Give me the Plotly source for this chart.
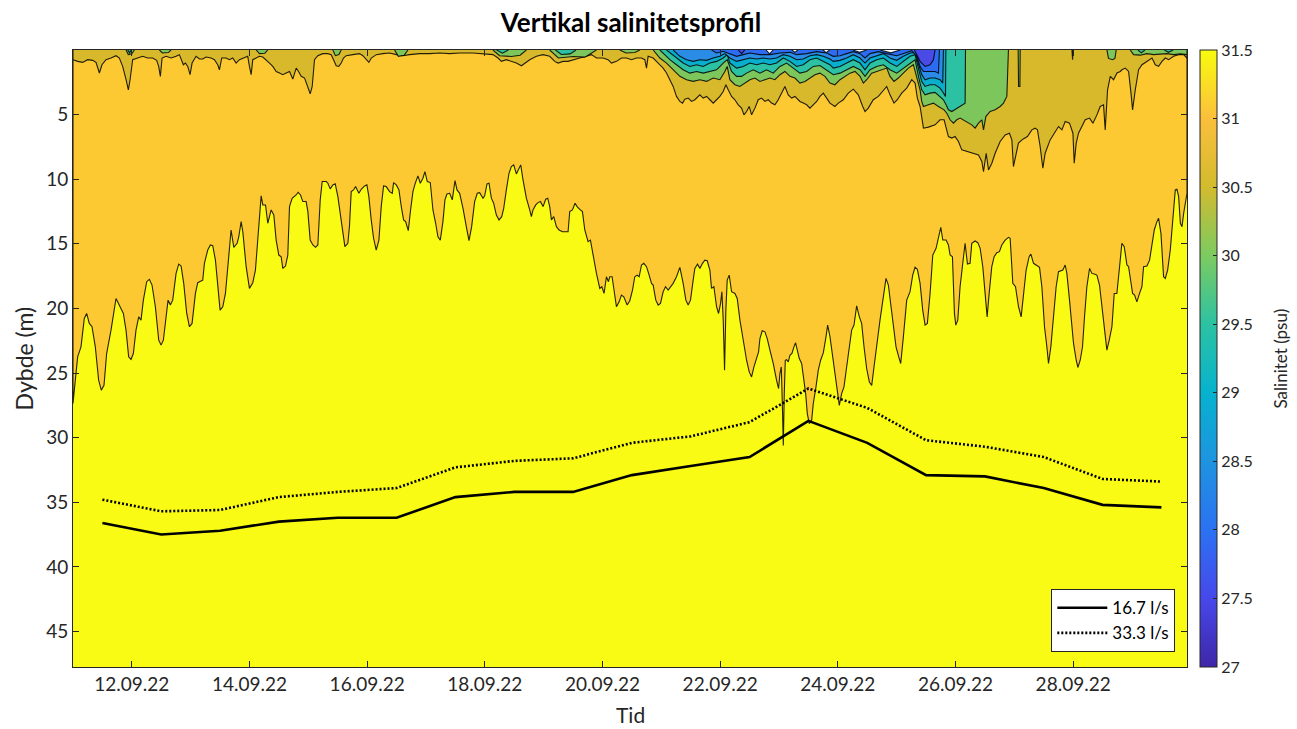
import pandas as pd
import plotly.graph_objects as go

START = pd.Timestamp("2022-09-11 00:00")
T_END = 18.935  # days after START at the right edge of the record

# ---- isolines: time in days after START, depth in m ----
# 31.5 psu (yellow below, orange above)
iso315_t = [0.0, 0.079, 0.136, 0.192, 0.232, 0.277, 0.323, 0.379, 0.436, 0.481, 0.527, 0.572, 0.646, 0.731,
            0.788, 0.856, 0.901, 0.946, 0.986, 1.026, 1.071, 1.117, 1.156, 1.196, 1.253, 1.298, 1.343, 1.400,
            1.457, 1.497, 1.536, 1.582, 1.616, 1.655, 1.695, 1.752, 1.797, 1.837, 1.882, 1.933, 1.979, 2.024,
            2.081, 2.120, 2.166, 2.205, 2.234, 2.290, 2.336, 2.375, 2.421, 2.472, 2.500, 2.546, 2.591, 2.642,
            2.687, 2.733, 2.790, 2.818, 2.858, 2.886, 2.943, 2.999, 3.056, 3.101, 3.141, 3.198, 3.226, 3.272,
            3.311, 3.368, 3.413, 3.453, 3.498, 3.538, 3.566, 3.612, 3.651, 3.680, 3.725, 3.793, 3.827, 3.867,
            3.907, 3.963, 3.992, 4.031, 4.077, 4.122, 4.162, 4.202, 4.236, 4.304, 4.332, 4.372, 4.417, 4.457,
            4.502, 4.531, 4.576, 4.621, 4.672, 4.700, 4.729, 4.769, 4.803, 4.825, 4.859, 4.899, 4.956, 4.995,
            5.029, 5.069, 5.109, 5.154, 5.200, 5.239, 5.279, 5.324, 5.381, 5.427, 5.449, 5.495, 5.540, 5.580,
            5.619, 5.653, 5.699, 5.738, 5.778, 5.818, 5.863, 5.903, 5.948, 5.982, 6.022, 6.073, 6.118, 6.164,
            6.203, 6.243, 6.288, 6.322, 6.356, 6.402, 6.447, 6.493, 6.527, 6.572, 6.629, 6.685, 6.731, 6.776,
            6.827, 6.872, 6.912, 6.969, 6.997, 7.037, 7.071, 7.111, 7.150, 7.196, 7.241, 7.287, 7.321, 7.366,
            7.411, 7.451, 7.491, 7.536, 7.582, 7.610, 7.649, 7.706, 7.763, 7.791, 7.819, 7.865, 7.905, 7.944,
            7.990, 8.035, 8.069, 8.103, 8.132, 8.171, 8.217, 8.262, 8.319, 8.375, 8.415, 8.443, 8.489, 8.534,
            8.568, 8.613, 8.659, 8.699, 8.755, 8.795, 8.840, 8.897, 8.954, 8.988, 9.027, 9.067, 9.101, 9.124,
            9.163, 9.192, 9.237, 9.283, 9.322, 9.362, 9.419, 9.464, 9.510, 9.549, 9.589, 9.623, 9.663, 9.702,
            9.748, 9.793, 9.833, 9.861, 9.906, 9.946, 9.986, 10.031, 10.071, 10.116, 10.156, 10.201, 10.258,
            10.315, 10.371, 10.417, 10.456, 10.496, 10.541, 10.570, 10.615, 10.655, 10.700, 10.740, 10.780,
            10.825, 10.853, 10.893, 10.939, 10.973, 11.007, 11.029, 11.052, 11.075, 11.097, 11.120, 11.154,
            11.194, 11.251, 11.290, 11.336, 11.392, 11.449, 11.494, 11.534, 11.574, 11.619, 11.653, 11.676,
            11.715, 11.761, 11.800, 11.846, 11.902, 11.959, 11.993, 12.016, 12.039, 12.061, 12.073, 12.090,
            12.107, 12.130, 12.158, 12.186, 12.220, 12.254, 12.282, 12.311, 12.345, 12.385, 12.413, 12.453,
            12.481, 12.515, 12.555, 12.583, 12.629, 12.668, 12.708, 12.753, 12.799, 12.827, 12.867, 12.906,
            12.952, 12.991, 13.025, 13.065, 13.105, 13.150, 13.196, 13.235, 13.275, 13.320, 13.366, 13.405,
            13.445, 13.490, 13.536, 13.576, 13.615, 13.661, 13.717, 13.774, 13.819, 13.859, 13.899, 13.944,
            13.989, 14.035, 14.069, 14.114, 14.171, 14.228, 14.273, 14.313, 14.352, 14.398, 14.443, 14.483,
            14.522, 14.568, 14.614, 14.670, 14.710, 14.750, 14.784, 14.840, 14.880, 14.908, 14.948, 14.982,
            15.005, 15.039, 15.078, 15.124, 15.163, 15.203, 15.248, 15.277, 15.333, 15.379, 15.419, 15.464,
            15.504, 15.538, 15.572, 15.617, 15.657, 15.702, 15.747, 15.787, 15.844, 15.901, 15.929, 15.974,
            16.020, 16.071, 16.116, 16.156, 16.201, 16.252, 16.281, 16.326, 16.383, 16.428, 16.468, 16.513,
            16.553, 16.581, 16.621, 16.666, 16.711, 16.751, 16.791, 16.825, 16.864, 16.893, 16.938, 16.984,
            17.006, 17.052, 17.080, 17.120, 17.159, 17.193, 17.233, 17.279, 17.318, 17.358, 17.403, 17.448,
            17.488, 17.534, 17.573, 17.613, 17.659, 17.698, 17.743, 17.789, 17.828, 17.868, 17.914, 17.942,
            17.970, 18.010, 18.044, 18.083, 18.129, 18.169, 18.197, 18.254, 18.299, 18.339, 18.379, 18.424,
            18.452, 18.492, 18.537, 18.566, 18.606, 18.651, 18.697, 18.736, 18.764, 18.793, 18.822, 18.850,
            18.878, 18.924, 18.935]
iso315_d = [27.36, 23.75, 22.97, 20.78, 20.39, 21.16, 21.42, 22.97, 25.56, 26.33, 25.95, 23.49, 21.68, 19.23,
            19.74, 20.39, 21.68, 23.75, 23.95, 23.49, 21.68, 20.65, 20.91, 19.36, 17.93, 17.75, 18.19, 19.87,
            22.46, 22.84, 22.46, 20.39, 19.36, 19.74, 19.36, 17.29, 16.57, 16.72, 18.06, 20.39, 21.42, 21.16,
            18.84, 18.01, 17.87, 17.82, 16.51, 15.48, 15.09, 15.15, 16.26, 19.10, 20.13, 19.87, 18.84, 16.26,
            13.93, 15.27, 14.96, 14.45, 13.28, 14.06, 16.77, 18.45, 18.01, 17.03, 14.71, 11.29, 11.99, 11.99,
            13.41, 12.38, 12.77, 14.71, 15.87, 16.00, 16.90, 16.72, 15.87, 12.12, 11.47, 11.22, 11.01, 11.22,
            11.73, 11.73, 12.51, 14.71, 15.09, 15.27, 15.09, 11.60, 10.18, 10.18, 10.31, 10.75, 10.44, 10.36,
            11.35, 12.38, 13.80, 15.22, 14.96, 13.60, 10.96, 10.83, 10.57, 10.78, 11.09, 10.78, 10.52, 10.44,
            11.35, 13.15, 14.57, 15.48, 14.71, 12.12, 10.52, 10.57, 10.96, 11.09, 10.26, 10.44, 10.83, 12.12,
            13.15, 13.28, 13.98, 12.38, 10.96, 10.31, 9.74, 10.31, 9.92, 9.41, 10.18, 10.26, 12.38, 13.41,
            14.45, 14.71, 13.28, 11.60, 11.14, 11.09, 11.60, 10.11, 10.83, 11.09, 12.25, 13.67, 14.76, 13.67,
            11.73, 11.09, 11.04, 11.47, 11.29, 10.36, 10.31, 11.47, 11.86, 12.77, 13.15, 12.90, 12.25, 10.83,
            9.54, 9.02, 8.89, 9.59, 9.15, 8.89, 10.05, 11.47, 12.38, 12.90, 12.38, 11.99, 11.81, 11.73,
            12.12, 11.55, 11.47, 12.12, 13.15, 12.90, 13.67, 13.93, 14.06, 14.06, 14.06, 12.51, 12.38, 11.86,
            12.12, 12.33, 12.51, 13.93, 14.83, 14.71, 15.87, 17.29, 18.45, 18.32, 18.84, 17.55, 17.93, 17.55,
            17.55, 18.58, 19.87, 19.49, 18.97, 19.10, 19.74, 19.40, 18.58, 17.55, 17.42, 17.55, 16.64, 16.51,
            16.77, 17.42, 18.06, 18.19, 19.36, 19.74, 19.61, 18.71, 18.32, 18.58, 18.32, 18.06, 17.55,
            16.82, 18.06, 19.36, 19.74, 19.36, 17.81, 16.90, 16.57, 16.90, 16.51, 16.26, 16.31,
            17.03, 18.45, 18.32, 19.87, 20.39, 19.61, 18.71, 20.91, 24.78, 20.13, 17.81, 17.42,
            18.71, 18.84, 19.23, 20.91, 22.59, 24.01, 24.91, 25.30, 24.53, 23.75, 23.36, 22.33,
            21.73, 21.81, 22.33, 23.23, 24.26, 25.56, 26.20, 25.04, 24.53, 28.14, 30.60, 26.59,
            24.01, 23.96, 24.14, 23.62, 23.49, 22.97, 22.66, 23.23, 23.88, 24.26, 25.30, 26.59,
            28.14, 28.92, 28.66, 27.36, 26.07, 24.78, 24.01, 23.44, 22.20, 21.29, 22.20, 23.49,
            25.04, 26.33, 27.50, 26.59, 26.07, 24.53, 22.97, 21.68, 21.29, 19.80, 20.65, 21.16,
            22.97, 24.65, 25.69, 25.95, 24.53, 22.71, 20.91, 19.10, 17.67, 18.19, 19.61, 21.42,
            22.97, 23.75, 24.26, 22.20, 19.36, 18.70, 17.42, 16.82, 16.98, 18.06, 20.13, 21.29,
            21.16, 18.84, 15.87, 15.35, 14.57, 13.72, 14.71, 14.71, 15.09, 15.87, 16.00, 20.39,
            21.29, 20.91, 18.32, 16.26, 14.96, 16.57, 16.51, 14.96, 14.78, 14.91, 15.35, 16.77,
            18.84, 20.65, 18.84, 16.77, 16.00, 15.69, 15.61, 15.09, 14.71, 14.50, 14.57, 18.06,
            18.32, 19.87, 20.65, 18.84, 17.03, 16.00, 15.79, 16.51, 16.72, 16.82, 18.32, 21.42,
            22.97, 24.26, 22.97, 20.65, 18.32, 17.16, 17.11, 17.03, 16.64, 17.29, 19.36, 21.42,
            22.71, 24.01, 24.57, 24.01, 22.97, 20.65, 18.32, 16.90, 17.29, 17.34, 17.42, 18.19,
            19.87, 21.42, 23.23, 22.46, 21.42, 18.84, 18.84, 16.77, 14.96, 15.22, 16.64, 16.77,
            17.68, 18.84, 18.97, 19.49, 18.84, 18.32, 16.77, 16.72, 16.26, 14.96, 13.93, 13.28,
            13.02, 14.19, 17.55, 17.68, 17.03, 15.48, 13.15, 10.83, 10.78, 11.35, 13.41, 13.67,
            12.64, 11.09, 11.09]

# 31.0 psu (orange below, olive above)
iso31_t = [0.0, 0.079, 0.164, 0.249, 0.334, 0.391, 0.448, 0.493, 0.561, 0.646, 0.732, 0.788, 0.844, 0.902,
           0.941, 0.970, 1.014, 1.099, 1.184, 1.269, 1.354, 1.422, 1.456, 1.485, 1.514, 1.582, 1.667, 1.752,
           1.808, 1.876, 1.911, 1.950, 1.990, 2.024, 2.092, 2.149, 2.205, 2.262, 2.347, 2.404, 2.460, 2.489,
           2.528, 2.603, 2.659, 2.715, 2.773, 2.829, 2.914, 2.970, 2.999, 3.028, 3.056, 3.113, 3.169, 3.226,
           3.283, 3.340, 3.396, 3.454, 3.510, 3.566, 3.624, 3.680, 3.736, 3.794, 3.833, 3.879, 3.936, 3.991,
           4.032, 4.066, 4.105, 4.161, 4.246, 4.331, 4.389, 4.428, 4.474, 4.518, 4.559, 4.598, 4.644, 4.757,
           4.871, 4.927, 4.985, 5.029, 5.070, 5.155, 5.267, 5.381, 5.495, 5.607, 5.721, 5.891, 6.062, 6.232,
           6.402, 6.572, 6.798, 6.968, 7.138, 7.224, 7.281, 7.366, 7.451, 7.536, 7.622, 7.678, 7.763, 7.877,
           7.989, 8.103, 8.188, 8.244, 8.330, 8.415, 8.500, 8.613, 8.727, 8.812, 8.898, 9.010, 9.095, 9.153,
           9.238, 9.323, 9.408, 9.493, 9.578, 9.663, 9.719, 9.748, 9.776, 9.861, 9.946, 10.031, 10.088,
           10.145, 10.201, 10.258, 10.315, 10.361, 10.400, 10.456, 10.514, 10.570, 10.655, 10.711, 10.769,
           10.825, 10.882, 10.939, 10.995, 11.052, 11.097, 11.137, 11.194, 11.250, 11.307, 11.364, 11.404,
           11.449, 11.494, 11.534, 11.591, 11.647, 11.704, 11.761, 11.817, 11.874, 11.931, 11.987, 12.045,
           12.101, 12.157, 12.215, 12.271, 12.356, 12.413, 12.470, 12.526, 12.583, 12.640, 12.696, 12.753,
           12.810, 12.866, 12.951, 13.008, 13.093, 13.178, 13.263, 13.348, 13.423, 13.462, 13.518, 13.603,
           13.689, 13.774, 13.831, 13.887, 13.955, 14.011, 14.086, 14.171, 14.256, 14.313, 14.352, 14.398,
           14.426, 14.455, 14.540, 14.653, 14.738, 14.806, 14.880, 14.937, 14.993, 15.050, 15.107, 15.192,
           15.306, 15.391, 15.448, 15.476, 15.522, 15.561, 15.618, 15.674, 15.759, 15.844, 15.917, 15.958,
           15.985, 16.026, 16.070, 16.145, 16.223, 16.298, 16.354, 16.393, 16.439, 16.485, 16.524, 16.609,
           16.694, 16.751, 16.809, 16.865, 16.938, 16.996, 17.018, 17.052, 17.091, 17.149, 17.205, 17.278,
           17.336, 17.404, 17.460, 17.516, 17.545, 17.585, 17.631, 17.687, 17.745, 17.801, 17.830, 17.886,
           17.942, 17.983, 18.010, 18.056, 18.112, 18.170, 18.226, 18.282, 18.340, 18.396, 18.452, 18.510,
           18.566, 18.623, 18.708, 18.793, 18.878, 18.935]
iso31_d = [0.75, 0.88, 0.96, 0.75, 0.80, 0.96, 1.78, 1.14, 0.75, 0.62, 0.44, 0.62, 1.27, 2.30,
           3.08, 2.30, 0.75, 0.62, 0.49, 0.62, 0.62, 0.80, 1.27, 2.04, 0.62, 0.49, 0.62, 0.49,
           0.36, 1.14, 1.01, 1.27, 1.91, 1.01, 0.49, 0.70, 0.70, 0.54, 0.62, 0.75, 1.14, 1.53,
           0.62, 0.62, 0.75, 0.62, 1.01, 0.75, 0.62, 0.49, 1.27, 1.91, 0.75, 0.62, 0.49, 0.54,
           0.75, 1.01, 1.27, 1.66, 1.78, 1.91, 1.78, 1.66, 2.25, 1.40, 1.66, 2.04, 2.17, 2.82,
           3.39, 2.82, 0.75, 0.44, 0.28, 0.28, 0.36, 0.75, 1.22, 1.27, 1.01, 0.62, 0.44, 0.36,
           0.28, 0.44, 0.75, 0.96, 0.62, 0.36, 0.28, 0.23, 0.36, 0.44, 0.36, 0.28, 0.28, 0.23,
           0.28, 0.23, 0.23, 0.28, 0.36, 0.62, 0.88, 0.75, 0.88, 1.01, 1.22, 1.01, 0.75, 0.49,
           0.36, 0.49, 0.88, 1.01, 0.88, 0.88, 0.75, 0.62, 0.49, 0.36, 0.62, 0.62, 0.75, 1.01,
           0.88, 0.62, 0.62, 0.75, 0.62, 0.62, 0.75, 1.40, 0.49, 0.62, 1.01, 1.40, 1.78,
           2.30, 2.82, 3.59, 3.98, 4.11, 3.80, 3.72, 3.98, 3.85, 3.47, 3.72, 3.59,
           3.85, 4.11, 3.85, 3.59, 3.21, 2.69, 3.08, 3.59, 3.85, 4.24, 4.50, 5.02,
           4.76, 4.37, 5.02, 4.50, 3.85, 3.72, 3.98, 3.85, 4.11, 4.24, 3.85, 3.34,
           2.82, 3.47, 3.72, 3.59, 3.98, 4.11, 4.24, 4.50, 4.24, 3.98, 3.59, 3.34,
           3.72, 4.11, 4.37, 4.11, 3.85, 3.34, 3.03, 3.47, 4.37, 4.76, 4.50, 3.85,
           3.59, 3.08, 2.82, 3.47, 4.11, 3.85, 3.34, 2.95, 2.30, 2.56, 3.72, 4.37,
           5.27, 6.05, 5.97, 5.79, 5.40, 5.40, 6.70, 6.82, 6.70, 7.08, 7.73, 7.86,
           7.99, 8.12, 8.63, 9.41, 7.99, 9.28, 8.76, 7.99, 7.08, 6.57, 6.44, 6.96,
           9.02, 7.99, 7.21, 6.90, 6.70, 6.18, 6.05, 6.18, 7.47, 9.15, 7.99, 6.96,
           6.31, 5.92, 6.18, 5.53, 5.66, 6.44, 8.76, 7.21, 6.44, 5.92, 5.40, 5.27,
           5.66, 5.02, 4.37, 4.24, 6.18, 3.08, 2.04, 2.30, 1.78, 1.66, 1.53, 1.40,
           1.66, 3.34, 4.63, 3.08, 1.53, 1.14, 0.96, 0.75, 0.62, 1.14, 1.27, 0.88,
           0.62, 0.75, 0.49, 0.36, 0.36, 0.62]

# 30.5 psu (olive below, green above); None separates patches that reach the surface
iso305_t = [0.902, 0.94, 1.00, 1.043, None, 1.468, 1.52, 1.62, 1.667, None, 3.113, 3.17, 3.26, 3.311, None,
            4.417, 4.46, 4.52, 4.559, None, 5.466, 5.53, 5.63, 5.693, None,
            7.138, 7.25, 7.45, 7.60, 7.707, None, 8.103, 8.25, 8.50, 8.70, 8.897, None,
            9.294, 9.40, 9.55, 9.634, None,
            9.861, 9.975, 10.088, 10.201, 10.315, 10.428, 10.541, 10.655, 10.769, 10.882, 10.995, 11.080,
            11.120, 11.165, 11.250, 11.335, 11.420, 11.506, 11.591, 11.676, 11.761, 11.846, 11.931, 12.016,
            12.101, 12.186, 12.271, 12.356, 12.441, 12.526, 12.611, 12.696, 12.781, 12.866, 12.951, 13.037,
            13.122, 13.207, 13.292, 13.377, 13.434, 13.491, 13.576, 13.661, 13.746, 13.831, 13.887, 13.955,
            14.029, 14.114, 14.199, 14.284, 14.341, 14.398, 14.426, 14.455, 14.540, 14.625, 14.710, 14.767,
            14.806, 14.852, 14.908, 14.965, 15.022, 15.079, 15.135, 15.192, 15.277, 15.334, 15.391, 15.448,
            15.476, 15.516, 15.589, 15.674, 15.759, 15.816, 15.873, 15.900, None,
            16.065, 16.072, 16.095, 16.100, None, 16.980, 16.990, 17.000, None,
            17.574, 17.600, 17.670, 17.710, 17.732, None,
            17.970, 18.027, 18.140, 18.254, 18.367, 18.481, 18.595, 18.708, 18.822, 18.935]
iso305_d = [0.0, 0.36, 0.30, 0.0, None, 0.0, 0.23, 0.20, 0.0, None, 0.0, 0.28, 0.25, 0.0, None,
            0.0, 0.44, 0.35, 0.0, None, 0.0, 0.49, 0.40, 0.0, None,
            0.0, 0.44, 0.50, 0.40, 0.0, None, 0.0, 0.62, 0.50, 0.55, 0.0, None,
            0.0, 0.23, 0.20, 0.0, None,
            0.0, 0.62, 1.01, 1.53, 2.04, 2.30, 2.43, 2.30, 2.43, 2.17, 2.30, 1.66,
            1.27, 2.30, 2.69, 2.82, 2.56, 2.30, 2.17, 2.43, 2.30, 2.17, 2.30, 1.91,
            1.66, 2.04, 2.17, 2.56, 2.43, 2.17, 1.91, 1.79, 2.04, 2.56, 2.69, 2.30,
            2.04, 1.79, 1.66, 2.04, 2.56, 2.30, 1.79, 1.66, 1.53, 1.40, 2.04, 2.43,
            2.17, 1.79, 1.40, 1.14, 2.04, 3.08, 3.98, 4.37, 4.24, 4.11, 4.37, 4.50,
            4.63, 4.89, 5.40, 5.66, 5.40, 5.27, 5.40, 5.53, 5.79, 6.05, 5.66, 5.40,
            6.18, 5.15, 4.76, 4.63, 4.37, 4.11, 3.59, 0.0, None,
            0.0, 2.82, 2.82, 0.0, None, 0.0, 0.75, 0.0, None,
            0.0, 0.65, 0.75, 0.65, 0.0, None,
            0.0, 0.36, 0.40, 0.28, 0.36, 0.30, 0.28, 0.36, 0.30, 0.36]

# 30.0 psu (green below, teal above)
iso30_t = [0.93, 0.96, 0.99, None, 7.20, 7.30, 7.40, None, 8.20, 8.30, 8.45, 8.55, None,
           9.975, 10.145, 10.258, 10.371, 10.485, 10.599, 10.711, 10.825, 10.939, 11.052, 11.120, 11.194,
           11.279, 11.364, 11.449, 11.563, 11.676, 11.790, 11.902, 12.016, 12.130, 12.243, 12.356, 12.470,
           12.583, 12.696, 12.810, 12.923, 13.037, 13.150, 13.263, 13.377, 13.462, 13.547, 13.661, 13.774,
           13.887, 14.001, 14.114, 14.228, 14.313, 14.370, 14.426, 14.483, 14.568, 14.653, 14.738, 14.795,
           14.840, 14.880, 14.937, 15.022, 15.107, 15.164, 15.170, None,
           18.10, 18.16, 18.22, None, 18.55, 18.62, 18.70]
iso30_d = [0.0, 0.22, 0.0, None, 0.0, 0.25, 0.0, None, 0.0, 0.35, 0.30, 0.0, None,
           0.0, 0.75, 1.14, 1.53, 1.79, 1.66, 1.79, 1.66, 1.53, 1.01, 0.75, 1.66,
           2.04, 2.04, 1.79, 1.53, 1.79, 1.53, 1.79, 1.27, 1.01, 1.40, 1.79, 1.66,
           1.27, 1.20, 1.53, 1.91, 1.79, 1.53, 1.27, 1.53, 2.04, 1.53, 1.27, 1.14,
           1.53, 1.79, 1.40, 1.01, 0.75, 2.04, 3.08, 3.47, 3.34, 3.28, 3.59, 3.85,
           4.24, 4.63, 4.76, 4.50, 4.24, 4.11, 0.0, None,
           0.0, 0.22, 0.0, None, 0.0, 0.18, 0.0]

# 29.5 psu (teal below, cyan above)
iso295_t = [10.088, 10.258, 10.371, 10.485, 10.599, 10.711, 10.825, 10.939, 11.052, 11.120, 11.165, 11.279,
            11.392, 11.506, 11.620, 11.733, 11.846, 11.960, 12.073, 12.186, 12.300, 12.413, 12.526, 12.640,
            12.753, 12.866, 12.923, 13.037, 13.150, 13.263, 13.377, 13.462, 13.547, 13.661, 13.774, 13.887,
            14.001, 14.114, 14.228, 14.313, 14.370, 14.426, 14.483, 14.568, 14.653, 14.738, 14.795, 14.830,
            14.836]
iso295_d = [0.0, 0.62, 1.01, 1.27, 1.14, 1.27, 1.01, 0.88, 0.62, 0.36, 1.01, 1.40,
            1.27, 1.01, 1.14, 1.01, 1.14, 1.01, 0.62, 0.88, 1.27, 1.14, 0.75, 0.62,
            0.88, 1.14, 1.40, 1.27, 1.01, 0.75, 1.01, 1.53, 1.01, 0.75, 0.62, 1.01,
            1.27, 0.88, 0.49, 0.36, 1.53, 2.43, 2.82, 2.69, 2.69, 2.95, 3.33, 3.59,
            0.0]

# 29.0 psu (cyan below, blue above)
iso29_t = [10.201, 10.315, 10.428, 10.541, 10.655, 10.769, 10.882, 10.995, 11.080, 11.165, 11.279, 11.392,
           11.506, 11.620, 11.733, 11.846, 11.960, 12.073, 12.186, 12.300, 12.413, 12.526, 12.640, 12.753,
           12.866, 12.923, 13.037, 13.150, 13.263, 13.377, 13.462, 13.547, 13.661, 13.774, 13.887, 14.001,
           14.114, 14.228, 14.313, 14.370, 14.426, 14.483, 14.568, 14.653, 14.738, 14.783, 14.795]
iso29_d = [0.0, 0.49, 0.75, 0.88, 0.75, 0.80, 0.62, 0.49, 0.28, 0.62, 0.88, 0.75,
           0.62, 0.70, 0.62, 0.70, 0.62, 0.36, 0.49, 0.75, 0.70, 0.44, 0.36, 0.49,
           0.70, 0.88, 0.80, 0.62, 0.36, 0.62, 1.01, 0.62, 0.44, 0.28, 0.62, 0.80,
           0.49, 0.23, 0.18, 1.14, 1.91, 2.30, 2.17, 2.17, 2.30, 2.56, 0.0]

# 28.5 psu
iso285_t = [10.854, 10.939, 11.052, 11.165, 11.279, 11.392, 11.506, 11.676, 11.846, 12.016, 12.186, 12.300,
            12.470, 12.640, 12.810, 12.923, 13.037, 13.150, 13.263, 13.377, 13.462, 13.547, 13.689, 13.831,
            14.001, 14.142, 14.256, 14.341, 14.398, 14.455, 14.568, 14.653, 14.710, 14.727]
iso285_d = [0.0, 0.23, 0.10, 0.28, 0.49, 0.36, 0.23, 0.36, 0.36, 0.23, 0.18, 0.36,
            0.28, 0.13, 0.23, 0.49, 0.44, 0.28, 0.13, 0.28, 0.62, 0.28, 0.13, 0.28,
            0.44, 0.23, 0.05, 0.49, 1.27, 1.66, 1.66, 1.66, 1.79, 0.0]

# 28.0 psu
iso28_t = [11.307, 11.364, 11.420, None, 14.301, 14.341, 14.398, 14.483, 14.568, 14.625, 14.653]
iso28_d = [0.0, 0.28, 0.0, None, 0.0, 0.36, 0.88, 1.27, 1.14, 0.75, 0.0]

# patches without data right below the surface
nodata_t = [11.78, 11.84, 11.90, None, 12.22, 12.27, 12.32, None, 12.75, 12.80, 12.86, None,
            13.26, 13.37, 13.49, None, 13.72, 13.90, 14.06]
nodata_d = [0.0, 0.30, 0.0, None, 0.0, 0.18, 0.0, None, 0.0, 0.20, 0.0, None,
            0.0, 0.18, 0.0, None, 0.0, 0.22, 0.0]

# ---- depth of the reference curves for two discharge rates ----
flow_time = ["2022-09-11 12:00", "2022-09-12 12:00", "2022-09-13 12:00", "2022-09-14 12:00",
             "2022-09-15 12:00", "2022-09-16 12:00", "2022-09-17 12:00", "2022-09-18 12:00",
             "2022-09-19 12:00", "2022-09-20 12:00", "2022-09-21 12:00", "2022-09-22 12:00",
             "2022-09-23 12:00", "2022-09-24 12:00", "2022-09-25 12:00", "2022-09-26 12:00",
             "2022-09-27 12:00", "2022-09-28 12:00", "2022-09-29 12:00"]
depth_167 = [36.6, 37.5, 37.2, 36.5, 36.2, 36.2, 34.6, 34.2, 34.2, 32.9, 32.2, 31.5, 28.7, 30.4,
             32.9, 33.0, 33.9, 35.2, 35.4]
depth_333 = [34.8, 35.7, 35.6, 34.6, 34.2, 33.9, 32.3, 31.8, 31.6, 30.4, 29.9, 28.8, 26.2, 27.7,
             30.2, 30.7, 31.5, 33.2, 33.4]

# ---- colours (parula) ----
LEVEL_COLORS = {
    31.5: "#F9FB15",  # above 31.5
    31.0: "#FCC932",
    30.5: "#D8B92C",
    30.0: "#7DC65C",
    29.5: "#2CC1A3",
    29.0: "#08AECB",
    28.5: "#2A8CE4",
    28.0: "#2D6CF2",
    27.5: "#4A4BE6",
}
PARULA = [[0.0, "#3E26A8"], [0.111, "#4748EA"], [0.222, "#2B72F2"], [0.333, "#1E94E0"],
          [0.444, "#06B2CE"], [0.556, "#2CC2A2"], [0.667, "#7CCB60"], [0.778, "#D3BB2E"],
          [0.889, "#FBBF3C"], [1.0, "#F9FB0E"]]

AXIS_COLOR = "#262626"
LINE_COLOR = "rgba(0,0,0,0.85)"
FONT = "Lato, 'Open Sans', sans-serif"


def to_time(days):
    return [START + pd.Timedelta(days=float(v)) for v in days]


def split_segments(t, d):
    segs, ct, cd = [], [], []
    for a, b in zip(t, d):
        if a is None:
            if ct:
                segs.append((ct, cd))
            ct, cd = [], []
        else:
            ct.append(a)
            cd.append(b)
    if ct:
        segs.append((ct, cd))
    return segs


fig = go.Figure()


def add_region(t, d, color):
    """Fill from the surface down to an isoline (closed along the surface)."""
    for st, sd in split_segments(t, d):
        xs = [st[0]] + st + [st[-1]]
        ys = [0.0] + sd + [0.0]
        fig.add_trace(go.Scatter(
            x=to_time(xs), y=ys, mode="lines", fill="toself", fillcolor=color,
            line=dict(color=LINE_COLOR, width=1.1), hoverinfo="skip", showlegend=False))


add_region(iso315_t, iso315_d, LEVEL_COLORS[31.0])
add_region(iso31_t, iso31_d, LEVEL_COLORS[30.5])
add_region(iso305_t, iso305_d, LEVEL_COLORS[30.0])
add_region(iso30_t, iso30_d, LEVEL_COLORS[29.5])
add_region(iso295_t, iso295_d, LEVEL_COLORS[29.0])
add_region(iso29_t, iso29_d, LEVEL_COLORS[28.5])
add_region(iso285_t, iso285_d, LEVEL_COLORS[28.0])
add_region(iso28_t, iso28_d, LEVEL_COLORS[27.5])
add_region(nodata_t, nodata_d, "#FFFFFF")

fig.add_trace(go.Scatter(x=pd.to_datetime(flow_time), y=depth_167, mode="lines", name="16.7 l/s",
                         line=dict(color="black", width=2.6)))
fig.add_trace(go.Scatter(x=pd.to_datetime(flow_time), y=depth_333, mode="lines", name="33.3 l/s",
                         line=dict(color="black", width=2.6, dash="2px,2px")))

# colour scale carrier, placed outside the visible time window
fig.add_trace(go.Heatmap(
    z=[[27.0, 31.5]], x=to_time([-30, -29]), y=[60, 61], colorscale=PARULA, zmin=27, zmax=31.5,
    showscale=True, hoverinfo="skip",
    colorbar=dict(x=1.0115, xanchor="left", xpad=0, y=0.5, yanchor="middle", ypad=0,
                  len=1, lenmode="fraction", thickness=17, thicknessmode="pixels",
                  outlinecolor=AXIS_COLOR, outlinewidth=1,
                  tickmode="array", tickvals=[27, 27.5, 28, 28.5, 29, 29.5, 30, 30.5, 31, 31.5],
                  ticktext=["27", "27.5", "28", "28.5", "29", "29.5", "30", "30.5", "31", "31.5"],
                  ticks="inside", ticklen=4, tickcolor=AXIS_COLOR,
                  tickfont=dict(family=FONT, size=16, color=AXIS_COLOR))))

fig.update_layout(
    width=1297, height=729,
    margin=dict(l=73, r=110, t=50, b=62),
    paper_bgcolor="white", plot_bgcolor=LEVEL_COLORS[31.5],
    font=dict(family=FONT, size=19, color=AXIS_COLOR),
    title=dict(text="<b>Vertikal salinitetsprofil</b>", x=631 / 1297, xanchor="center",
               xref="container", y=1 - 23 / 729, yanchor="middle", yref="container",
               font=dict(family=FONT, size=26, color="black")),
    showlegend=True,
    legend=dict(x=0.9895, xanchor="right", y=0.024, yanchor="bottom", bgcolor="white",
                bordercolor=AXIS_COLOR, borderwidth=1, font=dict(family=FONT, size=17, color="black"),
                itemwidth=50, tracegroupgap=0),
    xaxis=dict(type="date", range=[START, START + pd.Timedelta(days=T_END)],
               tickmode="linear", tick0="2022-09-12", dtick=2 * 86400000, tickformat="%d.%m.%y",
               ticks="inside", ticklen=6, tickcolor=AXIS_COLOR, showline=True, linecolor=AXIS_COLOR,
               linewidth=1, mirror="ticks", showgrid=False, zeroline=False,
               tickfont=dict(family=FONT, size=19, color=AXIS_COLOR)),
    yaxis=dict(range=[47.75, 0], tickmode="array", tickvals=[5, 10, 15, 20, 25, 30, 35, 40, 45],
               ticks="inside", ticklen=6, tickcolor=AXIS_COLOR, showline=True, linecolor=AXIS_COLOR,
               linewidth=1, mirror="ticks", showgrid=False, zeroline=False,
               tickfont=dict(family=FONT, size=19, color=AXIS_COLOR)),
    annotations=[
        dict(text="Dybde (m)", xref="paper", yref="paper", x=(23 - 73) / 1114, y=0.5, textangle=-90,
             showarrow=False, xanchor="center", yanchor="middle",
             font=dict(family=FONT, size=23, color=AXIS_COLOR)),
        dict(text="Tid", xref="paper", yref="paper", x=0.5, y=(667 - 714) / 617, showarrow=False,
             xanchor="center", yanchor="middle", font=dict(family=FONT, size=21, color=AXIS_COLOR)),
        dict(text="Salinitet (psu)", xref="paper", yref="paper", x=(1280 - 73) / 1114, y=0.5,
             textangle=-90, showarrow=False, xanchor="center", yanchor="middle",
             font=dict(family=FONT, size=17, color=AXIS_COLOR)),
    ],
)

fig.write_html("out.html")
